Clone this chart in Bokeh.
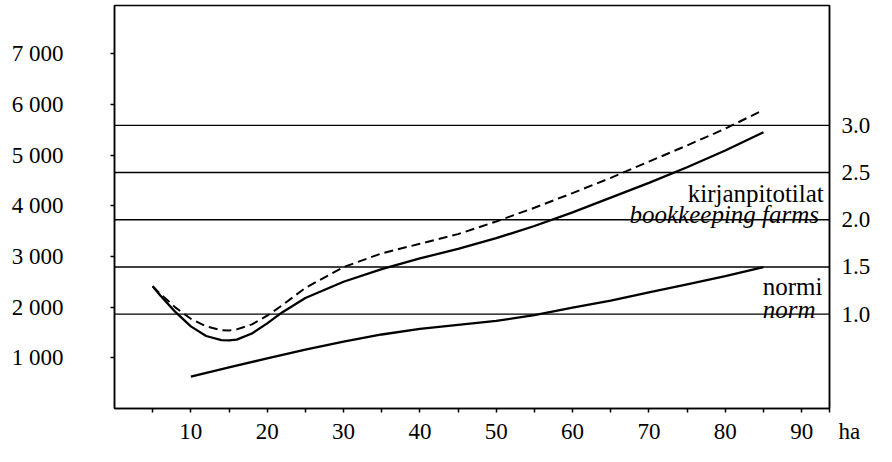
from bokeh.plotting import figure
from bokeh.models import Range1d, LinearAxis, FixedTicker, Span, Label, AllLabels
from bokeh.embed import file_html
from bokeh.resources import INLINE

# ---- data ----
farm_x = [5, 6, 8, 10, 12, 14, 15, 16, 18, 20, 22, 25, 30, 35, 40, 45, 50, 55, 60, 65, 70, 75, 80, 85]
farm_solid = [2410, 2230, 1900, 1620, 1430, 1350, 1345, 1360, 1480, 1680, 1900, 2180, 2500, 2750,
              2960, 3150, 3360, 3600, 3870, 4160, 4450, 4760, 5090, 5450]
farm_dashed = [2410, 2260, 1990, 1770, 1620, 1545, 1540, 1560, 1660, 1830, 2040, 2380, 2790, 3060,
               3250, 3440, 3690, 3960, 4250, 4550, 4870, 5190, 5520, 5890]
norm_x = [10, 15, 20, 25, 30, 35, 40, 45, 50, 55, 60, 65, 70, 75, 80, 85]
norm_y = [630, 810, 990, 1160, 1320, 1460, 1570, 1650, 1730, 1840, 1990, 2130, 2290, 2450, 2610, 2790]

x_ticks = [5, 10, 15, 20, 25, 30, 35, 40, 45, 50, 55, 60, 65, 70, 75, 80, 85, 90]
x_labels = ["", "10", "", "20", "", "30", "", "40", "", "50", "", "60", "", "70", "", "80", "", "90"]
unit_label = "ha"
left_ticks = [1000, 2000, 3000, 4000, 5000, 6000, 7000]
left_labels = ["1 000", "2 000", "3 000", "4 000", "5 000", "6 000", "7 000"]
right_ticks = [1.0, 1.5, 2.0, 2.5, 3.0]
right_labels = ["1.0", "1.5", "2.0", "2.5", "3.0"]

FONT = "Liberation Serif"
X_END = 93.65
UNIT_TICK = 93.6

p = figure(width=876, height=446, output_backend="svg", toolbar_location=None,
           x_range=Range1d(0, X_END), y_range=Range1d(0, 7950),
           min_border_left=114, min_border_right=47, min_border_top=5, min_border_bottom=36)
p.extra_y_ranges = {"right": Range1d(0.0, 4.27)}

p.xgrid.visible = False
p.ygrid.visible = False
p.outline_line_color = "black"
p.outline_line_width = 1.5
p.outline_line_alpha = 1.0
p.background_fill_color = "white"
p.border_fill_color = "white"

# x axis (unit "ha" shown as a label just past the last tick)
xa = p.xaxis[0]
xa.ticker = FixedTicker(ticks=x_ticks + [UNIT_TICK], minor_ticks=[])
ov = {t: l for t, l in zip(x_ticks, x_labels)}
ov[UNIT_TICK] = "\u00a0" * 7 + unit_label
xa.major_label_overrides = ov
xa.major_label_policy = AllLabels()
xa.major_label_standoff = 6

# left axis
ya = p.yaxis[0]
ya.ticker = FixedTicker(ticks=left_ticks, minor_ticks=[])
ya.major_label_overrides = {t: l for t, l in zip(left_ticks, left_labels)}
ya.major_label_standoff = 47

# right axis
ra = LinearAxis(y_range_name="right", ticker=FixedTicker(ticks=right_ticks, minor_ticks=[]))
ra.major_label_overrides = {t: l for t, l in zip(right_ticks, right_labels)}
ra.major_tick_out = 0
ra.major_tick_in = 0
ra.major_label_standoff = 12
p.add_layout(ra, "right")

for ax in (xa, ya, ra):
    ax.axis_line_color = "black"
    ax.axis_line_width = 1.5
    ax.major_tick_line_color = "black"
    ax.major_tick_line_width = 1.5
    ax.minor_tick_out = 0
    ax.minor_tick_in = 0
    ax.major_label_text_font = FONT
    ax.major_label_text_font_size = "23px"
    ax.major_label_text_color = "black"
for ax in (xa, ya):
    ax.major_tick_in = 0
    ax.major_tick_out = 4

# horizontal reference lines at right-axis values
for v in right_ticks:
    p.add_layout(Span(location=v, dimension="width", y_range_name="right",
                      line_color="black", line_width=1.4))

# curves
p.line(farm_x, farm_dashed, line_color="black", line_width=2, line_dash="9 5")
p.line(farm_x, farm_solid, line_color="black", line_width=2.3)
p.line(norm_x, norm_y, line_color="black", line_width=2.3)

# labels
lab_kw = dict(text_font=FONT, text_font_size="25px", text_color="black")
p.add_layout(Label(x=92.9, y=4250, text="kirjanpitotilat", text_align="right",
                   text_baseline="alphabetic", **lab_kw))
p.add_layout(Label(x=93.1, y=3820, text="bookkeeping  farms", text_align="right",
                   text_baseline="alphabetic", text_font_style="italic", **lab_kw))
p.add_layout(Label(x=84.9, y=2400, text="normi", text_align="left",
                   text_baseline="alphabetic", **lab_kw))
p.add_layout(Label(x=84.9, y=1950, text="norm", text_align="left",
                   text_baseline="alphabetic", text_font_style="italic", **lab_kw))

open("out.html", "w").write(file_html(p, INLINE))
